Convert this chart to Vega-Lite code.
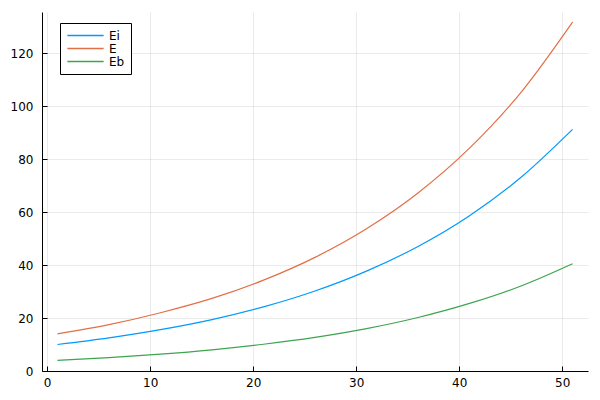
{
  "$schema": "https://vega.github.io/schema/vega-lite/v6.json",
  "width": 546,
  "height": 359,
  "autosize": "none",
  "padding": {"left": 42, "top": 12, "right": 12, "bottom": 29},
  "background": "white",
  "config": {
    "view": {"stroke": null},
    "font": "DejaVu Sans"
  },
  "data": {
    "values": [
      {"x": 1, "series": "Ei", "y": 10.0},
      {"x": 6, "series": "Ei", "y": 12.5},
      {"x": 11, "series": "Ei", "y": 15.6},
      {"x": 16, "series": "Ei", "y": 19.4},
      {"x": 21, "series": "Ei", "y": 24.2},
      {"x": 26, "series": "Ei", "y": 30.2},
      {"x": 31, "series": "Ei", "y": 37.7},
      {"x": 36, "series": "Ei", "y": 47.0},
      {"x": 41, "series": "Ei", "y": 58.6},
      {"x": 46, "series": "Ei", "y": 73.1},
      {"x": 51, "series": "Ei", "y": 91.2},
      {"x": 1, "series": "E", "y": 14.0},
      {"x": 6, "series": "E", "y": 17.5},
      {"x": 11, "series": "E", "y": 22.0},
      {"x": 16, "series": "E", "y": 27.4},
      {"x": 21, "series": "E", "y": 34.3},
      {"x": 26, "series": "E", "y": 42.9},
      {"x": 31, "series": "E", "y": 53.7},
      {"x": 36, "series": "E", "y": 67.2},
      {"x": 41, "series": "E", "y": 84.1},
      {"x": 46, "series": "E", "y": 105.2},
      {"x": 51, "series": "E", "y": 131.7},
      {"x": 1, "series": "Eb", "y": 4.0},
      {"x": 6, "series": "Eb", "y": 5.04},
      {"x": 11, "series": "Eb", "y": 6.36},
      {"x": 16, "series": "Eb", "y": 8.01},
      {"x": 21, "series": "Eb", "y": 10.1},
      {"x": 26, "series": "Eb", "y": 12.7},
      {"x": 31, "series": "Eb", "y": 16.0},
      {"x": 36, "series": "Eb", "y": 20.2},
      {"x": 41, "series": "Eb", "y": 25.5},
      {"x": 46, "series": "Eb", "y": 32.1},
      {"x": 51, "series": "Eb", "y": 40.5}
    ]
  },
  "mark": {"type": "line", "interpolate": "monotone", "strokeWidth": 1.2},
  "encoding": {
    "x": {
      "field": "x",
      "type": "quantitative",
      "scale": {"domain": [-0.5, 52.5], "nice": false, "zero": false},
      "axis": {
        "title": null,
        "values": [0, 10, 20, 30, 40, 50],
        "tickSize": -5,
        "tickColor": "#000",
        "domainColor": "#000",
        "labelColor": "#000",
        "labelFontSize": 12,
        "labelPadding": 11,
        "gridColor": "#000",
        "gridOpacity": 0.08,
        "gridWidth": 1
      }
    },
    "y": {
      "field": "y",
      "type": "quantitative",
      "scale": {"domain": [0, 135.5], "nice": false, "zero": false},
      "axis": {
        "title": null,
        "values": [0, 20, 40, 60, 80, 100, 120],
        "tickSize": -5,
        "tickColor": "#000",
        "domainColor": "#000",
        "labelColor": "#000",
        "labelFontSize": 12,
        "labelPadding": 14,
        "gridColor": "#000",
        "gridOpacity": 0.08,
        "gridWidth": 1
      }
    },
    "color": {
      "field": "series",
      "type": "nominal",
      "scale": {"domain": ["Ei", "E", "Eb"], "range": ["#009AFA", "#E36F47", "#3EA44E"]},
      "legend": {
        "title": null,
        "orient": "none",
        "legendX": 18,
        "legendY": 11,
        "symbolType": "M-1.45,0H1.45",
        "symbolSize": 625,
        "symbolStrokeWidth": 1.5,
        "symbolOffset": 6,
        "labelFontSize": 12,
        "labelColor": "#000",
        "strokeColor": "#000",
        "fillColor": "#fff",
        "padding": 6,
        "rowPadding": 0,
        "clipHeight": 13,
        "labelOffset": 10,
        "encode": {
          "symbols": {
            "update": {
              "stroke": {"scale": "color", "field": "value"},
              "strokeWidth": {"value": 1.5},
              "fill": {"value": "transparent"},
              "opacity": {"value": 1}
            }
          }
        }
      }
    }
  }
}
